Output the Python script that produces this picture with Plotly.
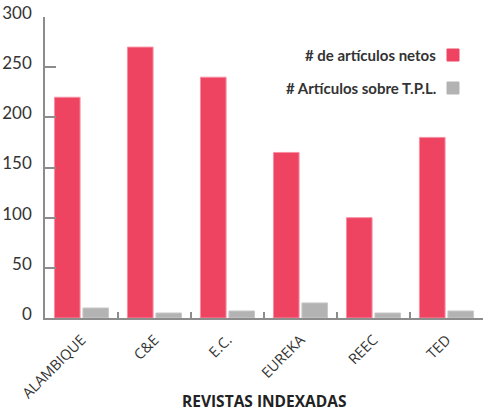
import plotly.graph_objects as go

revistas = ["ALAMBIQUE", "C&E", "E.C.", "EUREKA", "REEC", "TED"]
articulos_netos = [220, 270, 240, 165, 100, 180]
articulos_tpl = [10, 5, 7, 15, 5, 7]
y_ticks = [0, 50, 100, 150, 200, 250, 300]

ROJO = "#EE4462"
GRIS = "#B3B3B3"
FUENTE = "Open Sans, Lato, sans-serif"

fig = go.Figure()
fig.add_trace(go.Bar(x=revistas, y=articulos_netos, name="# de artículos netos",
                     marker=dict(color=ROJO, line=dict(color="#F78FA2", width=1))))
fig.add_trace(go.Bar(x=revistas, y=articulos_tpl, name="# Artículos sobre T.P.L.",
                     marker=dict(color=GRIS, line=dict(color="#C8C8C8", width=1))))

fig.update_layout(
    width=489, height=411,
    margin=dict(l=45, r=6, t=17, b=93, autoexpand=False),
    plot_bgcolor="white", paper_bgcolor="white",
    barmode="group", bargap=0.22, bargroupgap=0.1,
    showlegend=False,
    font=dict(family=FUENTE, color="#333333"),
)
fig.update_yaxes(range=[0, 300], tickvals=y_ticks, showgrid=False, zeroline=False,
                 showline=True, linecolor="#8C8C8C", linewidth=1.5,
                 ticks="inside", ticklen=11, tickcolor="#8C8C8C", tickwidth=1.5,
                 tickfont=dict(family="Lato", size=17, color="#333333"), ticklabelshift=-4,
                 ticklabelstandoff=8, automargin=False)
fig.update_xaxes(showgrid=False, showline=True, linecolor="#8C8C8C", linewidth=1.5,
                 ticks="inside", ticklen=6, tickcolor="#8C8C8C", tickwidth=1.5,
                 tickson="boundaries", tickangle=-45, automargin=False,
                 tickfont=dict(size=14.5, color="#333333"), ticklabelstandoff=6)

# título del eje x
fig.add_annotation(text="<b>REVISTAS INDEXADAS</b>", xref="paper", yref="paper",
                   x=(264 - 45) / 438, y=-(401 - 318) / 301, xanchor="center", yanchor="middle",
                   showarrow=False, font=dict(size=15.5, color="#222222"))

# leyenda: texto a la izquierda, cuadro a la derecha
leyenda = [("# de artículos netos", ROJO, 55), ("# Artículos sobre T.P.L.", GRIS, 88)]
for texto, color, ypx in leyenda:
    yp = 1 - (ypx - 17) / 301
    fig.add_annotation(text="<b>" + texto + "</b>", xref="paper", yref="paper",
                       x=(438 - 45) / 438, y=yp, xanchor="right", yanchor="middle",
                       showarrow=False, font=dict(family="Lato", size=15, color="#333333"))
    fig.add_shape(type="rect", xref="paper", yref="paper",
                  x0=(447 - 45) / 438, x1=(459 - 45) / 438,
                  y0=yp - 6 / 301, y1=yp + 6 / 301,
                  fillcolor=color, line=dict(color=color, width=1))

# sin margen del body para que la figura quede en (0, 0)
fig.write_html("out.html", config={"displayModeBar": False},
               post_script="document.body.style.margin='0';")
